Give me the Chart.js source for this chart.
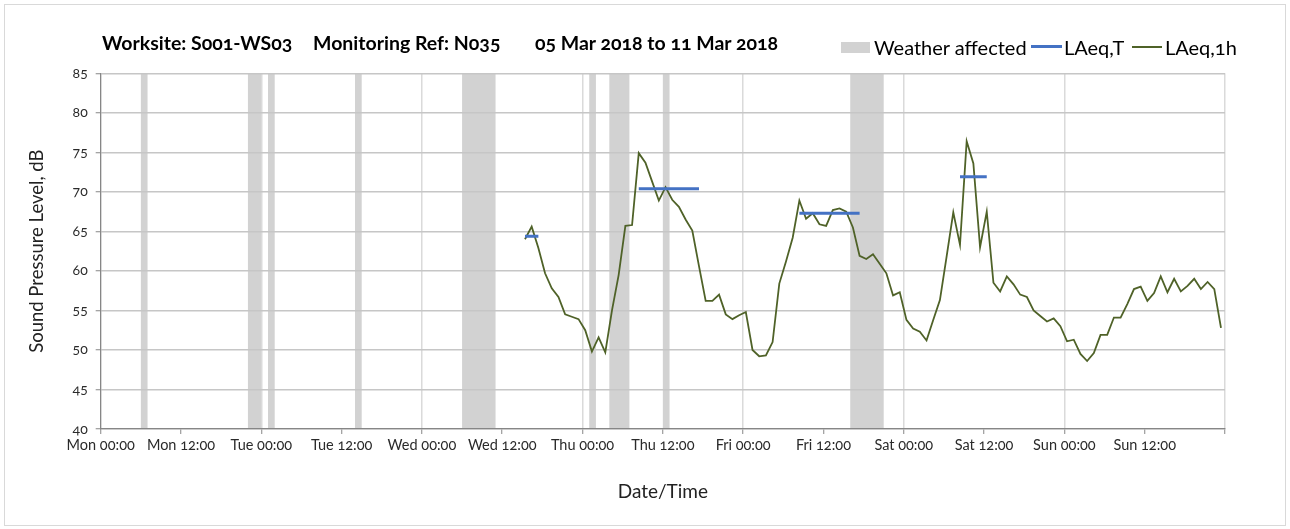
<!DOCTYPE html>
<html>
<head>
<meta charset="utf-8">
<script src="https://cdn.jsdelivr.net/npm/chart.js@4.4.1/dist/chart.umd.min.js"></script>
<style>
  html, body { margin: 0; padding: 0; background: #fff; }
  #wrap { position: relative; width: 1290px; height: 529px; font-family: Lato, "Open Sans", sans-serif; color: #000; font-variant-numeric: oldstyle-nums; }
  #frame { position: absolute; left: 4px; top: 4px; width: 1280px; height: 520px; border: 1px solid #d9d9d9; pointer-events: none; }
  canvas { position: absolute; left: 0; top: 0; }
  .title { position: absolute; top: 33px; font-weight: bold; font-size: 19.5px; line-height: 19.5px; white-space: nowrap; }
  .leg { position: absolute; top: 37px; font-size: 20px; line-height: 20px; white-space: nowrap; }
  .sw { position: absolute; }
</style>
</head>
<body>
<div id="wrap">
  <canvas id="chart" width="1290" height="529"></canvas>
  <div class="title" style="left:102px">Worksite: S001-WS03</div>
  <div class="title" style="left:313px">Monitoring Ref: N035</div>
  <div class="title" style="left:535px">05 Mar 2018 to 11 Mar 2018</div>

  <div class="sw" style="left:841px;top:42px;width:29px;height:11px;background:#d2d2d2"></div>
  <div class="leg" style="left:874px">Weather affected</div>
  <div class="sw" style="left:1031px;top:45px;width:31px;height:3px;background:#4472c4"></div>
  <div class="leg" style="left:1064px">LAeq,T</div>
  <div class="sw" style="left:1132px;top:46px;width:30px;height:1.5px;background:#4f6228"></div>
  <div class="leg" style="left:1165px">LAeq,1h</div>
  <div id="frame"></div>
</div>
<script>
// hours counted from Mon 05 Mar 00:00
const dayNames = ["Mon", "Tue", "Wed", "Thu", "Fri", "Sat", "Sun"]

// weather affected periods
const weatherStart = [6, 22, 25, 38, 54, 73, 76, 84, 112]
const weatherEnd   = [7, 24, 26, 39, 59, 74, 79, 85, 117]

// hourly LAeq readings, first one Wed 15:24, then every hour
const firstReadingHour = 63.4
const laeq1h = [
  64.0, 65.6, 62.9, 59.7, 57.8, 56.7, 54.5, 54.2, 53.9, 52.5,
  49.8, 51.6, 49.7, 55.0, 59.5, 65.7, 65.8, 74.9, 73.7, 71.3,
  68.9, 70.6, 69.0, 68.1, 66.5, 65.1, 60.6, 56.2, 56.2, 57.0,
  54.5, 53.9, 54.4, 54.8, 50.0, 49.2, 49.3, 51.0, 58.4, 61.2,
  64.2, 68.9, 66.6, 67.3, 65.9, 65.7, 67.7, 67.9, 67.5, 65.5,
  61.9, 61.5, 62.1, 60.9, 59.7, 56.9, 57.3, 53.8, 52.7, 52.3,
  51.2, 53.8, 56.3, 61.8, 67.4, 63.3, 76.4, 73.6, 63.0, 67.5,
  58.5, 57.4, 59.3, 58.3, 57.0, 56.7, 55.0, 54.3, 53.6, 54.0,
  53.0, 51.1, 51.3, 49.5, 48.6, 49.6, 51.9, 51.9, 54.1, 54.1,
  55.8, 57.7, 58.0, 56.2, 57.2, 59.3, 57.3, 59.0, 57.4, 58.1,
  59.0, 57.7, 58.6, 57.7, 52.8
]

// LAeq,T over each assessment period
const laeqTStart = [63.4, 80.4, 104.4, 128.4]
const laeqTEnd   = [65.4, 89.4, 113.4, 132.4]
const laeqTLevel = [64.4, 70.4, 67.3, 71.9]

const hourlyPoints = laeq1h.map((v, i) => ({ x: firstReadingHour + i, y: v }))
const periodPoints = []
laeqTLevel.forEach((v, i) => {
  periodPoints.push({ x: laeqTStart[i], y: v }, { x: laeqTEnd[i], y: v }, { x: laeqTEnd[i], y: null })
})

const weatherBands = {
  id: "weatherBands",
  beforeDraw(chart) {
    const { ctx, chartArea, scales } = chart
    ctx.save()
    ctx.fillStyle = "#d2d2d2"
    weatherStart.forEach((s, i) => {
      const x1 = scales.x.getPixelForValue(s)
      const x2 = scales.x.getPixelForValue(weatherEnd[i])
      ctx.fillRect(x1, chartArea.top, x2 - x1, chartArea.bottom - chartArea.top)
    })
    ctx.restore()
  }
}

const font = { family: "Lato, 'Open Sans', sans-serif" }
const axisGrey = "#868686"

new Chart(document.getElementById("chart"), {
  type: "line",
  data: {
    datasets: [
      { label: "LAeq,T", data: periodPoints, borderColor: "#4472c4", borderWidth: 3, spanGaps: false, pointRadius: 0 },
      { label: "LAeq,1h", data: hourlyPoints, borderColor: "#4f6228", borderWidth: 1.8, pointRadius: 0, tension: 0 }
    ]
  },
  plugins: [weatherBands],
  options: {
    responsive: false,
    animation: false,
    layout: { padding: { left: 0, right: 65, top: 73.3, bottom: 0 } },
    plugins: { legend: { display: false }, tooltip: { enabled: false } },
    scales: {
      x: {
        type: "linear",
        min: 0,
        max: 168,
        afterFit: s => { s.height = 100 },
        ticks: {
          stepSize: 12,
          autoSkip: false,
          maxRotation: 0,
          padding: 3,
          color: "#2a2a2a",
          font: { ...font, size: 14.5 },
          callback: v => v >= 168 ? "" : dayNames[Math.floor(v / 24)] + " " + (v % 24 === 0 ? "00:00" : "12:00")
        },
        grid: {
          color: c => c.tick && c.tick.value % 24 === 0 ? "#dadada" : "rgba(0,0,0,0)",
          lineWidth: 1.5,
          tickLength: 5,
          tickColor: axisGrey,
          tickWidth: 1
        },
        border: { color: axisGrey, width: 1.2 },
        title: { display: true, text: "Date/Time", color: "#222", font: { ...font, size: 19 }, padding: { top: 0, bottom: 26 } }
      },
      y: {
        min: 40,
        max: 85,
        afterFit: s => { s.width = 100.7 },
        ticks: { stepSize: 5, padding: 8, color: "#2a2a2a", font: { ...font, size: 14 } },
        grid: { color: "#c6c6c6", lineWidth: 1.5, tickLength: 5, tickColor: axisGrey, tickWidth: 1 },
        border: { color: axisGrey, width: 1.2 },
        title: { display: true, text: "Sound Pressure Level, dB", color: "#222", font: { ...font, size: 18.5 }, padding: { top: 26, bottom: 0 } }
      }
    }
  }
})
</script>
</body>
</html>
